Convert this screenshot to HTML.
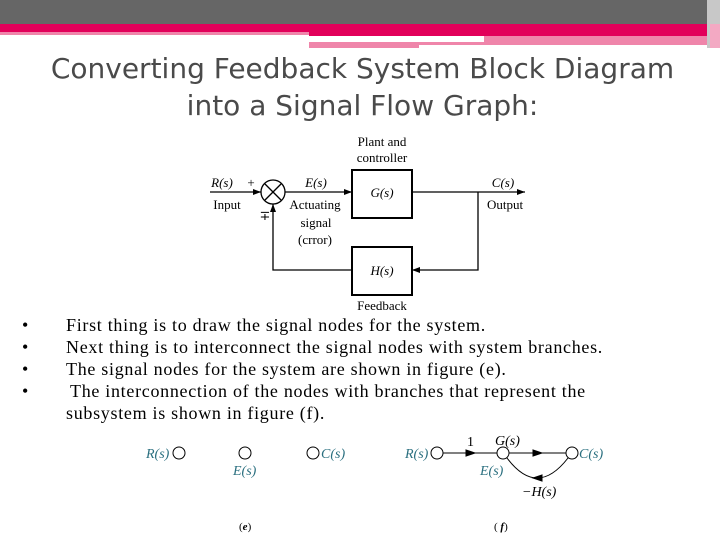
<!DOCTYPE html>
<html><head><meta charset="utf-8"><style>
body{margin:0;width:720px;height:540px;position:relative;background:#fff;overflow:hidden;font-family:"Liberation Serif",serif}
.t{position:absolute;left:0;width:725px;text-align:center;font-family:"DejaVu Sans","Liberation Sans",sans-serif;font-size:28px;color:#4a4a4a}
.b{position:absolute;font-size:18px;letter-spacing:0.7px;color:#000;white-space:nowrap}
</style></head><body>
<div style="position:absolute;left:0;top:0;width:720px;height:24px;background:#666"></div>
<div style="position:absolute;left:0;top:24px;width:720px;height:8px;background:#e2005a"></div>
<div style="position:absolute;left:0;top:32px;width:309px;height:3px;background:#ef85aa"></div>
<div style="position:absolute;left:309px;top:32px;width:400px;height:4px;background:#e2005a"></div>
<div style="position:absolute;left:309px;top:42px;width:110px;height:6px;background:#ef85aa"></div>
<div style="position:absolute;left:419px;top:42px;width:290px;height:3px;background:#ef85aa"></div>
<div style="position:absolute;left:484px;top:36px;width:225px;height:6px;background:#ef85aa"></div>
<div style="position:absolute;left:707px;top:0;width:13px;height:48px;background:#c8c8c8"></div>
<div style="position:absolute;left:710px;top:24px;width:10px;height:24px;background:#f3a9c3"></div>
<div class="t" style="top:52px">Converting Feedback System Block Diagram</div>
<div class="t" style="top:89px">into a Signal Flow Graph:</div>
<svg width="720" height="540" style="position:absolute;left:0;top:0" font-family="Liberation Serif,serif">
<defs><marker id="a" markerWidth="8" markerHeight="6" refX="8" refY="3" orient="auto" markerUnits="userSpaceOnUse"><path d="M0,0L8,3L0,6z" fill="#000"/></marker></defs>
<g stroke="#000" stroke-width="1.3" fill="none">
<line x1="210" y1="192" x2="261" y2="192" marker-end="url(#a)"/>
<circle cx="273" cy="192" r="12"/>
<line x1="265" y1="184" x2="281" y2="200"/><line x1="281" y1="184" x2="265" y2="200"/>
<line x1="285" y1="192" x2="352" y2="192" marker-end="url(#a)"/>
<rect x="352" y="170" width="60" height="48" stroke-width="2"/>
<line x1="412" y1="192" x2="525" y2="192" marker-end="url(#a)"/>
<polyline points="478,192 478,270 412,270" marker-end="url(#a)"/>
<rect x="352" y="247" width="60" height="48" stroke-width="2"/>
<polyline points="352,270 273,270 273,204" marker-end="url(#a)"/>
</g>
<g font-size="13" text-anchor="middle">
<text x="382" y="146">Plant and</text><text x="382" y="162">controller</text>
<text x="222" y="187" font-style="italic">R(s)</text><text x="251" y="187">+</text>
<text x="316" y="187" font-style="italic">E(s)</text>
<text x="227" y="209">Input</text><text x="315" y="209">Actuating</text>
<text x="316" y="227">signal</text><text x="315" y="244">(crror)</text>
<text x="265" y="220">∓</text>
<text x="503" y="187" font-style="italic">C(s)</text><text x="505" y="209">Output</text>
<text x="382" y="197" font-style="italic">G(s)</text><text x="382" y="275" font-style="italic">H(s)</text>
<text x="382" y="310">Feedback</text>
</g>
<g stroke="#000" stroke-width="1" fill="none">
<circle cx="179" cy="453" r="6"/><circle cx="245" cy="453" r="6"/><circle cx="313" cy="453" r="6"/>
<circle cx="437" cy="453" r="6"/><circle cx="503" cy="453" r="6"/><circle cx="572" cy="453" r="6"/>
<line x1="443" y1="453" x2="497" y2="453"/><path d="M466,450L475,453L466,456z" fill="#000"/>
<line x1="509" y1="453" x2="566" y2="453"/><path d="M533,450L542,453L533,456z" fill="#000"/>
<path d="M507,458Q537,498 568,458"/><path d="M542,475L533,478L542,481z" fill="#000"/>
</g>
<g font-size="14" font-style="italic" fill="#2a6f7f">
<text x="146" y="458">R(s)</text><text x="233" y="475">E(s)</text><text x="321" y="458">C(s)</text>
<text x="405" y="458">R(s)</text><text x="480" y="475">E(s)</text><text x="579" y="458">C(s)</text>
</g>
<g font-size="14" fill="#000">
<text x="467" y="446">1</text><text x="495" y="445" font-style="italic">G(s)</text>
<text x="522" y="496" font-style="italic">−H(s)</text>
<text x="239" y="530" font-size="11">(<tspan font-style="italic" font-weight="bold">e</tspan>)</text>
<text x="494" y="530" font-size="11">( <tspan font-style="italic" font-weight="bold">f</tspan>)</text>
</g>
</svg>
<div class="b" style="left:22px;top:315px">•</div><div class="b" style="left:66px;top:315px">First thing is to draw the signal nodes for the system.</div>
<div class="b" style="left:22px;top:337px">•</div><div class="b" style="left:66px;top:337px">Next thing is to interconnect the signal nodes with system branches.</div>
<div class="b" style="left:22px;top:359px">•</div><div class="b" style="left:66px;top:359px">The signal nodes for the system are shown in figure (e).</div>
<div class="b" style="left:22px;top:381px">•</div><div class="b" style="left:70px;top:381px">The interconnection of the nodes with branches that represent the</div>
<div class="b" style="left:66px;top:403px">subsystem is shown in figure (f).</div>
</body></html>
